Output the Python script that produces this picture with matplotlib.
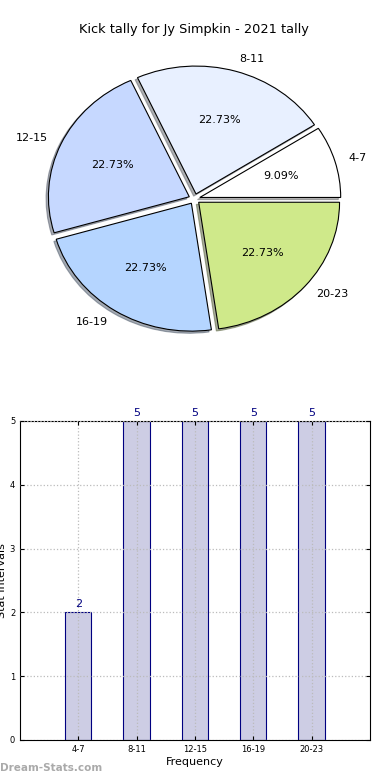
import matplotlib
matplotlib.use("Agg")
import matplotlib.pyplot as plt

# data
labels = ["4-7", "8-11", "12-15", "16-19", "20-23"]
counts = [2, 5, 5, 5, 5]
pie_colors = ["#ffffff", "#e8f0ff", "#c6d8ff", "#b5d5ff", "#cfe98a"]
title = "Kick tally for Jy Simpkin - 2021 tally"

fig = plt.figure(figsize=(3.9, 7.8), dpi=100)

# pie chart
ax1 = fig.add_axes([0.047, 0.54, 0.903, 0.41])
ax1.pie(counts, labels=labels, colors=pie_colors, explode=[0.04] * len(counts),
        autopct="%1.2f%%", shadow={"ox": -0.012, "oy": -0.012, "shade": 0.6},
        startangle=0,
        wedgeprops={"edgecolor": "black", "linewidth": 0.8},
        textprops={"fontsize": 8})
ax1.set_aspect("auto")
ax1.set_xlim(-1.25, 1.25)
ax1.set_ylim(-1.25, 1.25)
ax1.set_title(title, fontsize=9.3, pad=4)

# bar chart
ax2 = fig.add_axes([0.0513, 0.0513, 0.897, 0.409])
x = list(range(len(labels)))
ax2.bar(x, counts, width=0.45, color="#cdcde4", edgecolor="navy", linewidth=0.8)
for xi, c in zip(x, counts):
    ax2.text(xi, c + 0.05, str(c), ha="center", va="bottom", fontsize=8, color="navy")
ax2.set_xlim(-1, 5)
ax2.set_ylim(0, 5)
ax2.set_xticks(x)
ax2.set_xticklabels(labels)
ax2.set_yticks(range(6))
ax2.tick_params(direction="in", top=True, right=True, labelsize=6, length=3)
ax2.grid(True, linestyle=":", color="#bbbbbb", linewidth=0.9)
ax2.set_axisbelow(False)
ax2.set_xlabel("Frequency", fontsize=8, labelpad=2)
ax2.set_ylabel("Stat Intervals", fontsize=8, labelpad=2)

fig.text(0.0, 0.012, "Dream-Stats.com", fontsize=7.5, color="#aaaaaa", fontweight="bold")

fig.savefig("out.png", dpi=100)
